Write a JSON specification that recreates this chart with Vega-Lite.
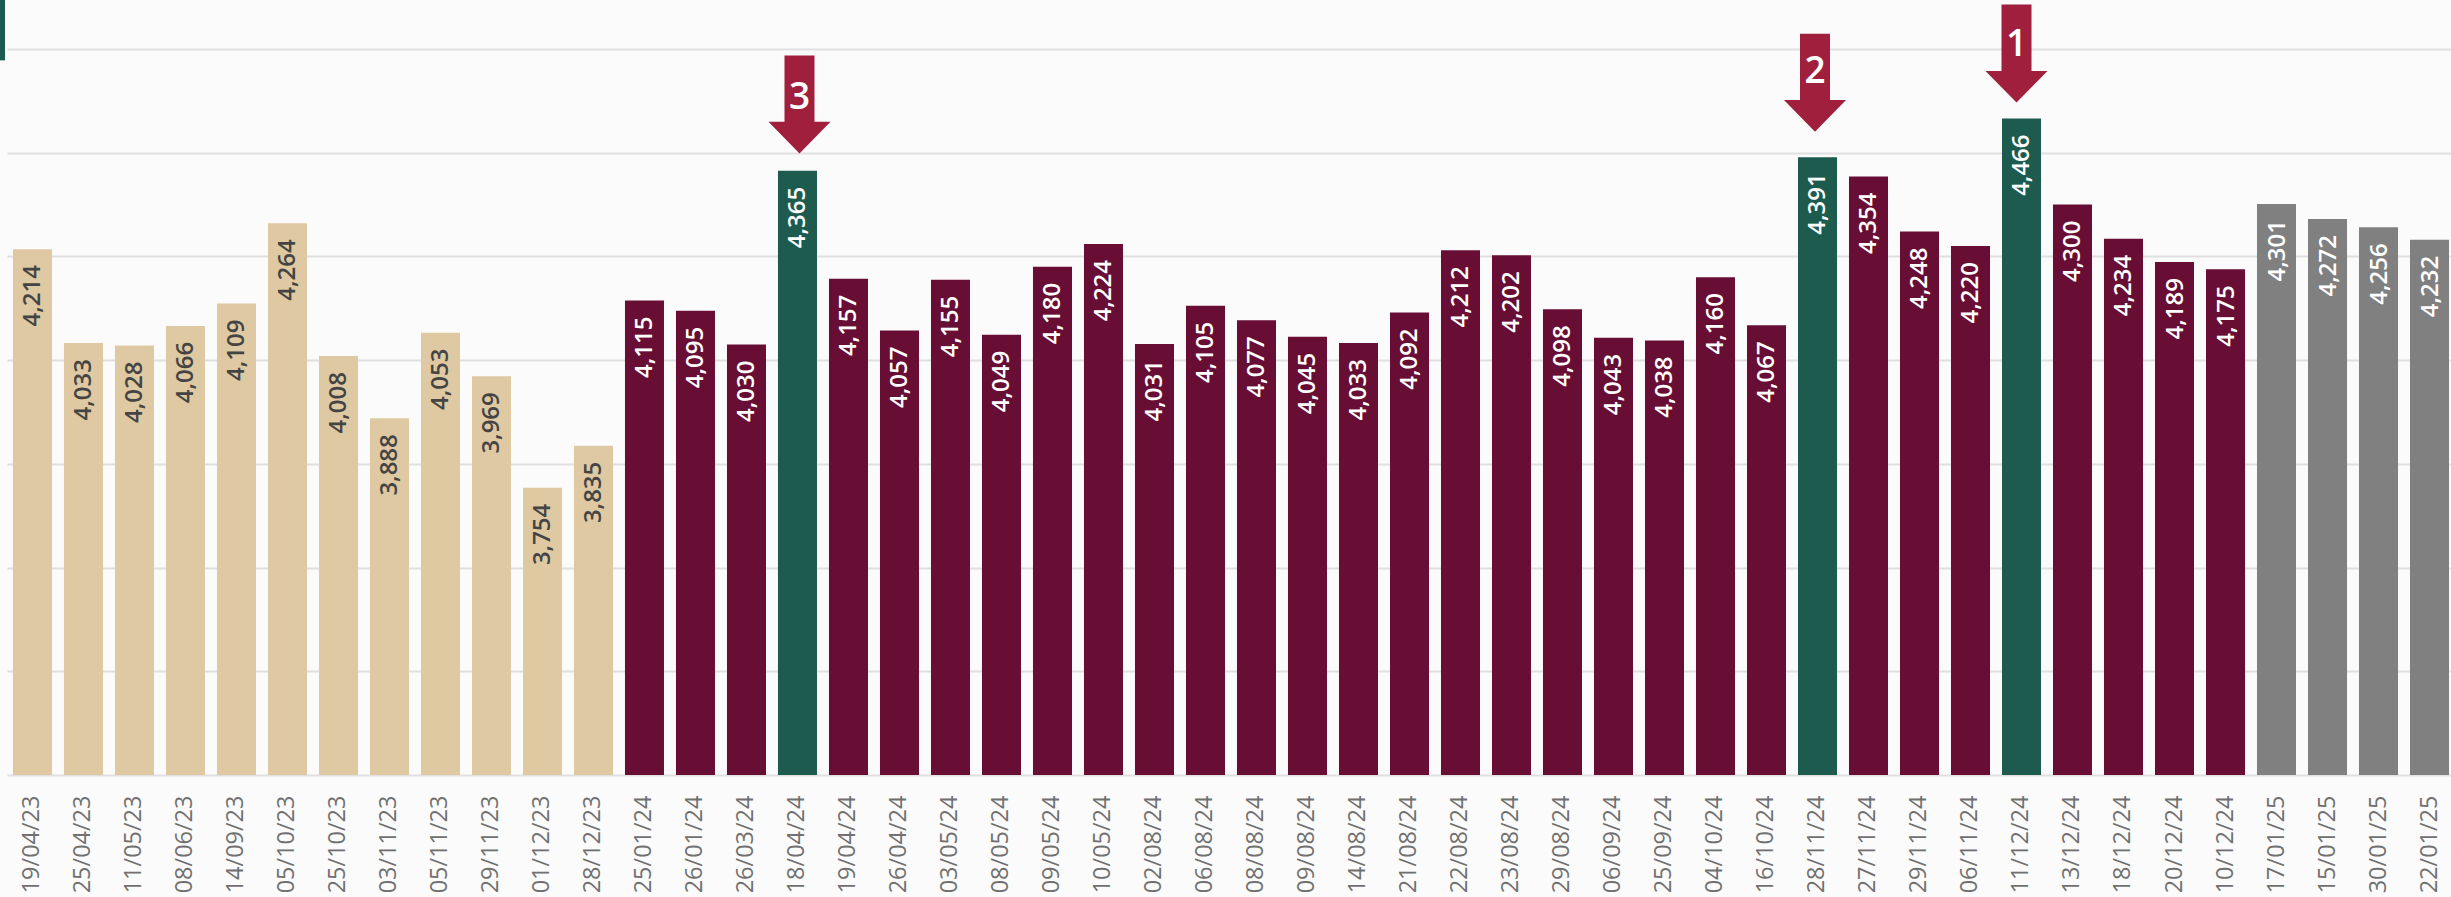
{
"$schema":"https://vega.github.io/schema/vega-lite/v6.json",
"width":2444,"height":775,
"autosize":{"type":"none"},
"padding":{"left":7,"top":0,"right":0,"bottom":122},
"background":"#fbfbfb",
"config":{"view":{"stroke":null}},
"datasets":{"bars":[
{"date":"19/04/23","value":4214,"group":"base"},{"date":"25/04/23","value":4033,"group":"base"},{"date":"11/05/23","value":4028,"group":"base"},{"date":"08/06/23","value":4066,"group":"base"},{"date":"14/09/23","value":4109,"group":"base"},{"date":"05/10/23","value":4264,"group":"base"},{"date":"25/10/23","value":4008,"group":"base"},{"date":"03/11/23","value":3888,"group":"base"},{"date":"05/11/23","value":4053,"group":"base"},{"date":"29/11/23","value":3969,"group":"base"},{"date":"01/12/23","value":3754,"group":"base"},{"date":"28/12/23","value":3835,"group":"base"},
{"date":"25/01/24","value":4115,"group":"main"},{"date":"26/01/24","value":4095,"group":"main"},{"date":"26/03/24","value":4030,"group":"main"},{"date":"18/04/24","value":4365,"group":"top"},{"date":"19/04/24","value":4157,"group":"main"},{"date":"26/04/24","value":4057,"group":"main"},{"date":"03/05/24","value":4155,"group":"main"},{"date":"08/05/24","value":4049,"group":"main"},{"date":"09/05/24","value":4180,"group":"main"},{"date":"10/05/24","value":4224,"group":"main"},{"date":"02/08/24","value":4031,"group":"main"},{"date":"06/08/24","value":4105,"group":"main"},{"date":"08/08/24","value":4077,"group":"main"},{"date":"09/08/24","value":4045,"group":"main"},{"date":"14/08/24","value":4033,"group":"main"},{"date":"21/08/24","value":4092,"group":"main"},{"date":"22/08/24","value":4212,"group":"main"},{"date":"23/08/24","value":4202,"group":"main"},{"date":"29/08/24","value":4098,"group":"main"},{"date":"06/09/24","value":4043,"group":"main"},{"date":"25/09/24","value":4038,"group":"main"},{"date":"04/10/24","value":4160,"group":"main"},{"date":"16/10/24","value":4067,"group":"main"},{"date":"28/11/24","value":4391,"group":"top"},{"date":"27/11/24","value":4354,"group":"main"},{"date":"29/11/24","value":4248,"group":"main"},{"date":"06/11/24","value":4220,"group":"main"},{"date":"11/12/24","value":4466,"group":"top"},{"date":"13/12/24","value":4300,"group":"main"},{"date":"18/12/24","value":4234,"group":"main"},{"date":"20/12/24","value":4189,"group":"main"},{"date":"10/12/24","value":4175,"group":"main"},
{"date":"17/01/25","value":4301,"group":"late"},{"date":"15/01/25","value":4272,"group":"late"},{"date":"30/01/25","value":4256,"group":"late"},{"date":"22/01/25","value":4232,"group":"late"}
]},
"resolve":{"scale":{"x":"independent"}},
"layer":[
{"layer":[
{"data":{"name":"bars"},"mark":{"type":"bar"},
 "encoding":{
  "x":{"field":"date","type":"nominal","sort":null,"title":null,
   "scale":{"paddingInner":0.235,"paddingOuter":0.078,"align":0.75},
   "axis":{"labelAngle":270,"labelAlign":"right","labelBaseline":"middle","labelPadding":20,"labelFont":"Open Sans","labelFontSize":23.5,"labelColor":"#707070","ticks":false,"domain":false,"grid":false,"labelOverlap":false,"labelBound":false,"labelFlush":false}},
  "y":{"field":"value","type":"quantitative","title":null,
   "scale":{"domain":[3200,4694.4],"nice":false,"zero":false},
   "axis":{"values":[3200,3400,3600,3800,4000,4200,4400,4600],"labels":false,"ticks":false,"domain":false,"grid":true,"gridColor":"#e0e0e0","gridWidth":2}},
  "y2":{"datum":3200},
  "color":{"field":"group","type":"nominal","legend":null,
   "scale":{"domain":["base","main","top","late"],"range":["#dfc9a2","#680e34","#1e5b4f","#808080"]}}}},
{"data":{"name":"bars"},"mark":{"type":"text","angle":270,"align":"right","baseline":"middle","dx":-16,"dy":1,"fontSize":24,"fontWeight":600,"font":"Open Sans"},
 "encoding":{
  "x":{"field":"date","type":"nominal","sort":null},
  "y":{"field":"value","type":"quantitative"},
  "text":{"field":"value","type":"quantitative","format":","},
  "color":{"condition":{"test":"datum.group==='base'","value":"#444444"},"value":"#ffffff"}}},
{"data":{"values":[{"date":"11/12/24","center":4591,"rank":"1"}]},
 "layer":[
 {"mark":{"type":"point","filled":true,"opacity":1,"color":"#a01f3c","xOffset":-5,"size":9604,"shape":"M-.306,-1L.306,-1L.306,.353L.633,.353L0,1L-.633,.353L-.306,.353Z"},
  "encoding":{"x":{"field":"date","type":"nominal","sort":null},"y":{"field":"center","type":"quantitative"}}},
 {"mark":{"type":"text","color":"#ffffff","fontSize":37,"fontWeight":600,"font":"Open Sans","xOffset":-5,"dy":-9,"baseline":"middle"},
  "encoding":{"x":{"field":"date","type":"nominal","sort":null},"y":{"field":"center","type":"quantitative"},"text":{"field":"rank"}}}]},
{"data":{"values":[{"date":"28/11/24","center":4535,"rank":"2"}]},
 "layer":[
 {"mark":{"type":"point","filled":true,"opacity":1,"color":"#a01f3c","xOffset":-2.5,"size":9604,"shape":"M-.306,-1L.306,-1L.306,.353L.633,.353L0,1L-.633,.353L-.306,.353Z"},
  "encoding":{"x":{"field":"date","type":"nominal","sort":null},"y":{"field":"center","type":"quantitative"}}},
 {"mark":{"type":"text","color":"#ffffff","fontSize":37,"fontWeight":600,"font":"Open Sans","xOffset":-2.5,"dy":-11,"baseline":"middle"},
  "encoding":{"x":{"field":"date","type":"nominal","sort":null},"y":{"field":"center","type":"quantitative"},"text":{"field":"rank"}}}]},
{"data":{"values":[{"date":"18/04/24","center":4493,"rank":"3"}]},
 "layer":[
 {"mark":{"type":"point","filled":true,"opacity":1,"color":"#a01f3c","xOffset":2,"size":9604,"shape":"M-.306,-1L.306,-1L.306,.353L.633,.353L0,1L-.633,.353L-.306,.353Z"},
  "encoding":{"x":{"field":"date","type":"nominal","sort":null},"y":{"field":"center","type":"quantitative"}}},
 {"mark":{"type":"text","color":"#ffffff","fontSize":37,"fontWeight":600,"font":"Open Sans","xOffset":2,"dy":-6,"baseline":"middle"},
  "encoding":{"x":{"field":"date","type":"nominal","sort":null},"y":{"field":"center","type":"quantitative"},"text":{"field":"rank"}}}]}
]},
{"data":{"values":[{"from":-7,"to":-2,"top":4694.4,"bottom":4578}]},
 "mark":{"type":"rect","color":"#1e5b4f","clip":false},
 "encoding":{
  "x":{"field":"from","type":"quantitative","axis":null,"scale":{"domain":[0,2444],"nice":false,"zero":false}},
  "x2":{"field":"to"},
  "y":{"field":"top","type":"quantitative"},
  "y2":{"field":"bottom"}}}
]
}
